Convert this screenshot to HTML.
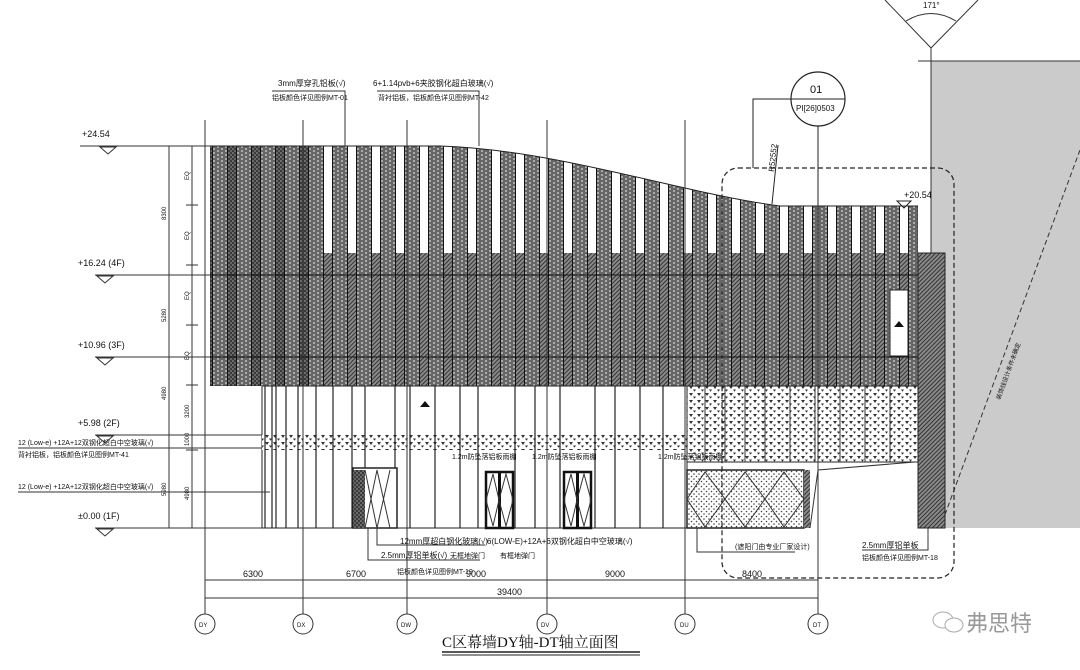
<!DOCTYPE html>
<html><head><meta charset="utf-8"><style>
html,body{margin:0;padding:0;background:#fff;width:1080px;height:670px;overflow:hidden}
svg{display:block}
text{font-family:"Liberation Sans","Noto Sans CJK SC",sans-serif;fill:#111}
</style></head><body>
<svg width="1080" height="670" viewBox="0 0 1080 670" xmlns="http://www.w3.org/2000/svg">
<defs>
<pattern id="fin" patternUnits="userSpaceOnUse" x="212" y="0" width="24" height="4">
<rect x="0" y="0" width="16" height="4" fill="#666"/>
<circle cx="2" cy="1" r="0.9" fill="#ddd"/><circle cx="6" cy="3" r="0.9" fill="#ddd"/><circle cx="10" cy="1" r="0.9" fill="#ddd"/><circle cx="14" cy="3" r="0.9" fill="#ddd"/>
<rect x="0" y="0" width="1" height="4" fill="#111"/><rect x="15" y="0" width="1" height="4" fill="#111"/>
</pattern>
<pattern id="dark" patternUnits="userSpaceOnUse" width="4" height="4">
<rect width="4" height="4" fill="#3a3a3a"/><circle cx="1" cy="1" r="0.8" fill="#aaa"/><circle cx="3" cy="3" r="0.8" fill="#999"/>
</pattern>
<pattern id="hatch" patternUnits="userSpaceOnUse" width="3" height="3" patternTransform="rotate(45)">
<rect width="3" height="3" fill="#8a8a8a"/><rect width="1" height="3" fill="#333"/>
</pattern>
<pattern id="tri" patternUnits="userSpaceOnUse" width="8" height="7">
<rect width="8" height="7" fill="#fff"/><path d="M1,1 L5,1 L3,4 Z" fill="#333"/><path d="M5,4.5 L8,4.5 L6.5,6.8 Z" fill="#333"/>
</pattern>
<pattern id="dots" patternUnits="userSpaceOnUse" width="5" height="5">
<rect width="5" height="5" fill="#fff"/><circle cx="1.5" cy="1.5" r="0.8" fill="#444"/><circle cx="4" cy="4" r="0.8" fill="#444"/>
</pattern>
<clipPath id="curve"><path d="M210,146 L440,146 C560,150 680,193 780,206 L918,206 L918,386 L210,386 Z"/></clipPath>
</defs>

<rect x="931" y="61" width="149" height="467" fill="#cbcbcb"/>
<line x1="918" y1="61" x2="1080" y2="61" stroke="#333" stroke-width="1"/>
<line x1="931" y1="48" x2="931" y2="528" stroke="#333" stroke-width="1"/>
<line x1="1080" y1="150" x2="940" y2="528" stroke="#333" stroke-width="1" stroke-dasharray="5,3"/>
<text x="0" y="0" font-size="6" transform="translate(1000,400) rotate(-70)">装饰线设计条件未确定</text>
<line x1="931" y1="48" x2="885" y2="0" stroke="#333"/><line x1="931" y1="48" x2="978" y2="0" stroke="#333"/>
<path d="M906,21 Q931,6 956,21" fill="none" stroke="#333"/>
<text x="923" y="8" font-size="8">171°</text>

<rect x="315" y="253" width="630" height="133" fill="url(#hatch)"/>
<rect x="210" y="146" width="105" height="240" fill="url(#dark)"/>
<rect x="210" y="146" width="710" height="240" fill="url(#fin)" clip-path="url(#curve)"/>
<path d="M210,146 L440,146 C560,150 680,193 780,206 L918,206" fill="none" stroke="#222" stroke-width="1"/>
<rect x="210" y="146" width="708" height="240" fill="none" stroke="#222" stroke-width="1" clip-path="url(#curve)"/>
<line x1="210" y1="275" x2="945" y2="275" stroke="#111" stroke-width="1"/>
<line x1="210" y1="357" x2="945" y2="357" stroke="#111" stroke-width="1"/>
<rect x="890" y="290" width="18" height="66" fill="#fff" stroke="#222"/>
<path d="M894,327 L899,321 L904,327 Z" fill="#111"/>
<rect x="918" y="253" width="27" height="275" fill="url(#hatch)" stroke="#222"/>

<rect x="262" y="386" width="425" height="142" fill="#fff" stroke="#222"/>
<rect x="262" y="435" width="425" height="15" fill="url(#tri)"/>
<g stroke="#222" stroke-width="1.2">
<line x1="265" y1="386" x2="265" y2="528"/><line x1="272" y1="386" x2="272" y2="528"/><line x1="276" y1="386" x2="276" y2="528"/>
<line x1="286" y1="386" x2="286" y2="528"/><line x1="298" y1="386" x2="298" y2="528"/><line x1="316" y1="386" x2="316" y2="528"/>
<line x1="333" y1="386" x2="333" y2="528"/><line x1="352" y1="386" x2="352" y2="528"/><line x1="365" y1="386" x2="365" y2="528"/>
<line x1="395" y1="386" x2="395" y2="528"/><line x1="410" y1="386" x2="410" y2="528"/><line x1="435" y1="386" x2="435" y2="528"/>
<line x1="460" y1="386" x2="460" y2="528"/><line x1="478" y1="386" x2="478" y2="528"/><line x1="515" y1="386" x2="515" y2="528"/>
<line x1="535" y1="386" x2="535" y2="528"/><line x1="560" y1="386" x2="560" y2="528"/><line x1="595" y1="386" x2="595" y2="528"/>
<line x1="615" y1="386" x2="615" y2="528"/><line x1="640" y1="386" x2="640" y2="528"/><line x1="663" y1="386" x2="663" y2="528"/>
</g>
<path d="M420,407 L425,401 L430,407 Z" fill="#111"/>
<rect x="353" y="468" width="44" height="60" fill="#fff" stroke="#222" stroke-width="1.5"/>
<rect x="353" y="470" width="12" height="58" fill="url(#dark)"/>
<path d="M365,528 L377,470 L390,528 M365,470 L377,528 L390,470" fill="none" stroke="#333"/>
<rect x="486" y="472" width="27" height="56" fill="#fff" stroke="#111" stroke-width="2.5"/>
<line x1="499.5" y1="472" x2="499.5" y2="528" stroke="#111" stroke-width="3"/>
<path d="M486,500 L493,474 L499,500 L493,526 Z M499,500 L506,474 L513,500 L506,526 Z" fill="none" stroke="#333"/>
<rect x="564" y="472" width="27" height="56" fill="#fff" stroke="#111" stroke-width="2.5"/>
<line x1="577.5" y1="472" x2="577.5" y2="528" stroke="#111" stroke-width="3"/>
<path d="M564,500 L571,474 L577,500 L571,526 Z M577,500 L584,474 L591,500 L584,526 Z" fill="none" stroke="#333"/>
<rect x="687" y="386" width="231" height="76" fill="url(#tri)" stroke="#222"/>
<g stroke="#333" stroke-width="1"><line x1="705" y1="386" x2="705" y2="462"/><line x1="725" y1="386" x2="725" y2="462"/><line x1="745" y1="386" x2="745" y2="462"/><line x1="765" y1="386" x2="765" y2="462"/><line x1="790" y1="386" x2="790" y2="462"/><line x1="815" y1="386" x2="815" y2="462"/><line x1="840" y1="386" x2="840" y2="462"/><line x1="865" y1="386" x2="865" y2="462"/><line x1="890" y1="386" x2="890" y2="462"/></g>
<rect x="687" y="470" width="117" height="58" fill="url(#dots)" stroke="#222" stroke-width="1.5"/>
<path d="M687,499 L705,472 L725,499 L705,527 Z M725,499 L745,472 L765,499 L745,527 Z M765,499 L784,472 L804,499 L784,527 Z" fill="none" stroke="#333"/>
<rect x="804" y="470" width="6" height="58" fill="url(#hatch)"/>
<path d="M810,528 L818,470 L915,462" fill="none" stroke="#333"/>

<rect x="722" y="168" width="232" height="410" rx="16" fill="none" stroke="#222" stroke-width="1.2" stroke-dasharray="5,3"/>
<circle cx="818" cy="99" r="27" fill="#fff" stroke="#222" stroke-width="1.2"/>
<line x1="791" y1="99" x2="845" y2="99" stroke="#222"/>
<text x="810" y="93" font-size="11">01</text>
<text x="796" y="111" font-size="8">PI[26]0503</text>
<polyline points="791,99 753,99 753,168" fill="none" stroke="#222"/>
<line x1="818" y1="126" x2="818" y2="208" stroke="#222"/>
<line x1="778" y1="145" x2="772" y2="204" stroke="#222"/>
<text font-size="8" transform="translate(774,172) rotate(-84)">R52552</text>
<text x="904" y="198" font-size="9">+20.54</text>
<path d="M897,201 L911,201 L904,208 Z" fill="none" stroke="#222"/>

<g stroke="#333" stroke-width="1">
<line x1="205" y1="120" x2="205" y2="602"/><line x1="303" y1="120" x2="303" y2="602"/><line x1="407" y1="120" x2="407" y2="602"/>
<line x1="547" y1="120" x2="547" y2="602"/><line x1="685" y1="120" x2="685" y2="602"/><line x1="818" y1="208" x2="818" y2="602"/>
<line x1="205" y1="580" x2="818" y2="580"/><line x1="205" y1="598" x2="818" y2="598"/>
</g>
<g fill="#fff" stroke="#333">
<circle cx="205" cy="624" r="10"/><circle cx="303" cy="624" r="10"/><circle cx="407" cy="624" r="10"/><circle cx="547" cy="624" r="10"/><circle cx="685" cy="624" r="10"/><circle cx="818" cy="624" r="10"/>
</g>
<line x1="205" y1="602" x2="205" y2="614" stroke="#333"/><line x1="303" y1="602" x2="303" y2="614" stroke="#333"/><line x1="407" y1="602" x2="407" y2="614" stroke="#333"/><line x1="547" y1="602" x2="547" y2="614" stroke="#333"/><line x1="685" y1="602" x2="685" y2="614" stroke="#333"/><line x1="818" y1="602" x2="818" y2="614" stroke="#333"/>
<g font-size="6" fill="#555"><text x="199" y="627">DY</text><text x="297" y="627">DX</text><text x="401" y="627">DW</text><text x="541" y="627">DV</text><text x="680" y="627">DU</text><text x="813" y="627">DT</text></g>
<g font-size="9"><text x="243" y="577">6300</text><text x="346" y="577">6700</text><text x="466" y="577">9000</text><text x="605" y="577">9000</text><text x="742" y="577">8400</text><text x="497" y="595">39400</text></g>
<text x="442" y="647" style="font-size:15px;font-family:'Liberation Serif','Noto Serif CJK SC',serif">C区幕墙DY轴-DT轴立面图</text>
<line x1="442" y1="652" x2="640" y2="652" stroke="#222" stroke-width="1.5"/><line x1="442" y1="655" x2="640" y2="655" stroke="#222"/>

<g stroke="#333" stroke-width="1">
<line x1="80" y1="146" x2="210" y2="146"/><line x1="95" y1="275" x2="210" y2="275"/><line x1="95" y1="357" x2="210" y2="357"/>
<line x1="95" y1="435" x2="262" y2="435"/><line x1="95" y1="528" x2="262" y2="528"/>
<line x1="169" y1="146" x2="169" y2="528"/><line x1="192" y1="146" x2="192" y2="528"/>
<line x1="186" y1="205" x2="198" y2="205"/><line x1="186" y1="265" x2="198" y2="265"/><line x1="186" y1="325" x2="198" y2="325"/><line x1="186" y1="385" x2="198" y2="385"/><line x1="186" y1="450" x2="198" y2="450"/>
<line x1="18" y1="448" x2="262" y2="448"/><line x1="18" y1="492" x2="270" y2="492"/>
</g>
<g fill="none" stroke="#333"><path d="M100,147 L116,147 L108,154 Z"/><path d="M97,276 L113,276 L105,283 Z"/><path d="M97,358 L113,358 L105,365 Z"/><path d="M97,436 L113,436 L105,443 Z"/><path d="M97,529 L113,529 L105,536 Z"/></g>
<g font-size="9"><text x="82" y="137">+24.54</text><text x="78" y="266">+16.24 (4F)</text><text x="78" y="348">+10.96 (3F)</text><text x="78" y="426">+5.98 (2F)</text><text x="78" y="519">±0.00 (1F)</text></g>
<g font-size="7"><text x="18" y="445">12 (Low-e) +12A+12双钢化超白中空玻璃(√)</text><text x="18" y="457">背衬铝板，铝板颜色详见图例MT-41</text><text x="18" y="489">12 (Low-e) +12A+12双钢化超白中空玻璃(√)</text></g>
<g font-size="6"><text transform="translate(166,220) rotate(-90)">8300</text><text transform="translate(166,322) rotate(-90)">5280</text><text transform="translate(166,400) rotate(-90)">4980</text><text transform="translate(166,496) rotate(-90)">5980</text>
<text transform="translate(189,180) rotate(-90)">EQ</text><text transform="translate(189,240) rotate(-90)">EQ</text><text transform="translate(189,300) rotate(-90)">EQ</text><text transform="translate(189,360) rotate(-90)">EQ</text>
<text transform="translate(189,418) rotate(-90)">3200</text><text transform="translate(189,446) rotate(-90)">1000</text><text transform="translate(189,500) rotate(-90)">4980</text></g>

<g font-size="8"><text x="278" y="86">3mm厚穿孔铝板(√)</text><text x="272" y="100" font-size="7">铝板颜色详见图例MT-01</text>
<text x="373" y="86">6+1.14pvb+6夹胶钢化超白玻璃(√)</text><text x="378" y="100" font-size="7">背衬铝板，铝板颜色详见图例MT-42</text></g>
<polyline points="272,91 345,91 345,146" fill="none" stroke="#333"/>
<polyline points="377,91 479,91 479,146" fill="none" stroke="#333"/>

<g font-size="8"><text x="400" y="544">12mm厚超白钢化玻璃(√)</text><text x="381" y="558">2.5mm厚铝单板(√)</text><text x="397" y="574" font-size="7">铝板颜色详见图例MT-19</text>
<text x="487" y="544">6(LOW-E)+12A+6双钢化超白中空玻璃(√)</text><text x="500" y="558" font-size="7">有框地弹门</text><text x="450" y="558" font-size="7">无框地弹门</text>
<text x="735" y="549" font-size="7">(遮阳门由专业厂家设计)</text><text x="862" y="548">2.5mm厚铝单板</text><text x="862" y="560" font-size="7">铝板颜色详见图例MT-18</text>
<text x="452" y="459" font-size="7">1.2m防坠落铝板雨棚</text><text x="532" y="459" font-size="7">1.2m防坠落铝板雨棚</text><text x="658" y="459" font-size="7">1.2m防坠落铝板雨棚</text></g>
<polyline points="368,528 368,560 480,560" fill="none" stroke="#333"/>
<polyline points="377,528 377,545 485,545" fill="none" stroke="#333"/>
<polyline points="697,528 697,552 795,552" fill="none" stroke="#333"/>
<polyline points="928,528 928,550 862,550" fill="none" stroke="#333"/>

<text x="966" y="631" style="font-size:22px;fill:#999">弗思特</text>
<ellipse cx="943" cy="620" rx="10" ry="8" fill="none" stroke="#aaa"/><ellipse cx="954" cy="625" rx="9" ry="7" fill="#fff" stroke="#aaa"/>
</svg>
</body></html>
